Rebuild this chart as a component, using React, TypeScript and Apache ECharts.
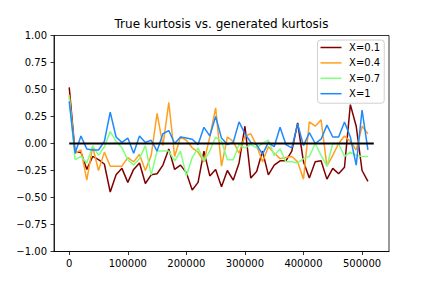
import React, { useEffect, useRef } from "react";
import * as echarts from "echarts";

const xValues: number[] = Array.from({ length: 52 }, (_, i) => i * 10000);

const seriesNames = ["X=0.1", "X=0.4", "X=0.7", "X=1"];

const x01 = [0.52, -0.08, -0.08, -0.24, -0.12, -0.15, -0.19, -0.45, -0.29, -0.23, -0.36, -0.24, -0.18, -0.37, -0.29, -0.28, -0.2, -0.05, -0.24, -0.2, -0.27, -0.43, -0.36, -0.07, -0.3, -0.24, -0.4, -0.25, -0.34, -0.18, 0.16, -0.32, -0.26, -0.07, -0.29, -0.2, -0.16, -0.16, -0.07, 0.19, -0.17, -0.32, -0.17, -0.16, -0.33, -0.23, -0.28, -0.22, 0.36, 0.16, -0.25, -0.35];
const x04 = [0.45, -0.09, -0.06, -0.34, -0.03, -0.25, -0.08, -0.21, -0.21, -0.21, -0.13, -0.17, -0.1, -0.25, -0.11, 0.28, -0.02, 0.38, -0.12, 0.06, 0.03, -0.04, -0.08, -0.17, 0.06, 0.33, -0.21, 0.06, 0.02, -0.09, 0.07, 0.09, -0.02, -0.17, -0.03, -0.09, -0.14, -0.13, -0.12, -0.17, -0.33, 0.2, 0.16, 0.22, -0.21, -0.11, 0, 0.07, 0.02, -0.06, 0.16, 0.09];
const x07 = [0.43, -0.15, -0.12, -0.18, -0.02, -0.11, -0.03, 0.11, 0.02, -0.04, -0.15, -0.2, -0.14, -0.02, -0.29, -0.07, -0.07, -0.07, -0.16, -0.07, -0.3, -0.13, -0.04, -0.16, -0.07, 0.06, 0.02, -0.15, -0.15, -0.01, -0.04, -0.01, -0.04, 0, 0.03, -0.11, -0.05, -0.17, -0.17, -0.18, -0.14, -0.12, 0, -0.11, -0.21, 0, 0, -0.12, -0.08, -0.11, -0.12, -0.12];
const x1 = [0.39, -0.09, 0.07, -0.05, -0.06, -0.06, 0.02, 0.29, 0.06, 0.01, 0.05, -0.09, 0.07, 0.01, 0.03, -0.07, 0.09, 0.12, 0.0, 0.06, 0.05, 0.04, -0.01, 0.15, 0.07, 0.25, 0.05, -0.01, 0.01, 0.2, 0.09, 0.01, -0.01, -0.1, 0.01, -0.03, 0.15, -0.01, -0.04, 0.18, -0.02, 0.1, 0, 0.04, 0.17, 0.06, 0.06, 0.2, 0.06, -0.2, 0.31, -0.06];

const zeroLineX = [0, 520000];
const xTicks = [0, 100000, 200000, 300000, 400000, 500000];

const colors = ["#800000", "#ffa020", "#80ff80", "#1e88ff"];

export default function App() {
  const ref = useRef<HTMLDivElement>(null);
  useEffect(() => {
    if (!ref.current) return;
    const chart = echarts.init(ref.current, null, { renderer: "svg" });
    const font = "DejaVu Sans";
    const dataSets = [x01, x04, x07, x1];
    const lineSeries = dataSets.map((arr, k) => ({
      name: seriesNames[k],
      type: "line",
      showSymbol: false,
      symbol: "none",
      data: arr.map((v, i) => [xValues[i], v]),
      lineStyle: { color: colors[k], width: 1.5 },
      itemStyle: { color: colors[k] },
      z: 2,
    }));
    chart.setOption({
      animation: false,
      textStyle: { fontFamily: font },
      title: {
        text: "True kurtosis vs. generated kurtosis",
        left: 221.5,
        top: 18,
        textAlign: "center",
        padding: 0,
        textStyle: { fontFamily: font, fontSize: 12, fontWeight: "normal", color: "#000" },
      },
      legend: {
        data: seriesNames,
        orient: "vertical",
        left: 317.5,
        top: 40,
        icon: "rect",
        itemWidth: 21,
        itemHeight: 1.5,
        itemGap: 3.4,
        padding: [1.5, 4, 3.5, 3],
        borderColor: "#d0d0d0",
        borderWidth: 1,
        borderRadius: 3,
        backgroundColor: "rgba(255,255,255,0.8)",
        textStyle: { fontFamily: font, fontSize: 10, color: "#000", lineHeight: 12, padding: [0, 0, 0, 2.6] },
      },
      grid: {
        left: 54,
        top: 35.5,
        width: 335,
        height: 216,
        show: true,
        borderColor: "#000",
        borderWidth: 0.8,
        backgroundColor: "transparent",
      },
      xAxis: {
        type: "value",
        min: -26000,
        max: 546000,
        axisLine: { onZero: false, lineStyle: { color: "#000", width: 0.8 } },
        axisTick: { show: true, length: 3.5, lineStyle: { color: "#000", width: 0.8 }, customValues: xTicks },
        axisLabel: { customValues: xTicks, margin: 7, fontFamily: font, fontSize: 10, color: "#000", formatter: (v: number) => String(v) },
        splitLine: { show: false },
      },
      yAxis: {
        type: "value",
        min: -1,
        max: 1,
        interval: 0.25,
        axisLine: { show: true, onZero: false, lineStyle: { color: "#000", width: 0.8 } },
        axisTick: { show: true, length: 3.5, lineStyle: { color: "#000", width: 0.8 } },
        axisLabel: {
          margin: 7,
          fontFamily: font,
          fontSize: 10,
          color: "#000",
          formatter: (v: number) => v.toFixed(2).replace("-", "\u2212"),
        },
        splitLine: { show: false },
      },
      series: [
        ...lineSeries,
        {
          name: "zero",
          type: "line",
          showSymbol: false,
          symbol: "none",
          data: zeroLineX.map((x) => [x, 0]),
          lineStyle: { color: "#000", width: 2 },
          itemStyle: { color: "#000" },
          z: 3,
        },
      ],
    });
    return () => chart.dispose();
  }, []);
  return <div ref={ref} style={{ position: "absolute", left: 0, top: 0, width: 432, height: 288 }} />;
}
